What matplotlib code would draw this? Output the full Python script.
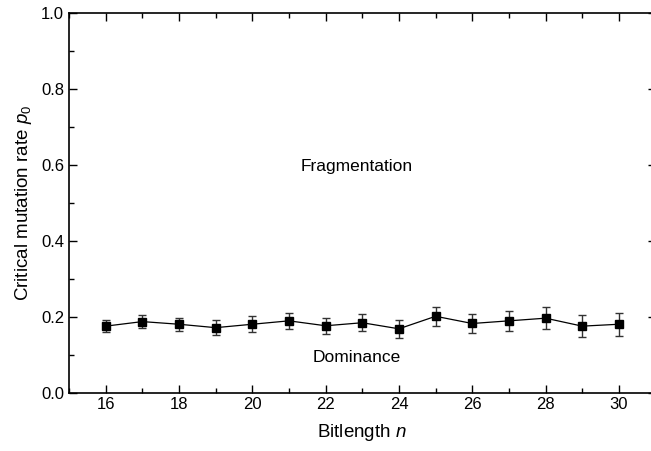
import numpy as np
import matplotlib
matplotlib.use("Agg")
import matplotlib.pyplot as plt
from matplotlib.ticker import MultipleLocator

plt.rcParams["font.family"] = ["Liberation Sans", "DejaVu Sans"]
plt.rcParams["mathtext.fontset"] = "custom"
plt.rcParams["mathtext.it"] = "Liberation Sans:italic"
plt.rcParams["mathtext.rm"] = "Liberation Sans"

# data
bitlength = [16, 17, 18, 19, 20, 21, 22, 23, 24, 25, 26, 27, 28, 29, 30]
p0 = [0.175, 0.187, 0.180, 0.171, 0.180, 0.189, 0.176, 0.184, 0.168, 0.201,
      0.182, 0.189, 0.196, 0.175, 0.180]
p0_err = [0.016, 0.017, 0.0175, 0.019, 0.0205, 0.021, 0.0215, 0.023, 0.024, 0.025,
          0.026, 0.027, 0.0285, 0.0295, 0.030]

fig = plt.figure(figsize=(6.51, 4.51), dpi=100)
ax = fig.add_axes([0.106, 0.1297, 0.901, 0.8408])

ax.errorbar(bitlength, p0, yerr=p0_err, color="black", ecolor="#333333",
            marker="s", markersize=5.8, linewidth=0.9, elinewidth=1.0,
            capsize=2.6, capthick=1.0)

ax.set_xlim(15, 31)
ax.set_ylim(0, 1.0)
ax.xaxis.set_major_locator(MultipleLocator(2))
ax.xaxis.set_minor_locator(MultipleLocator(1))
ax.yaxis.set_major_locator(MultipleLocator(0.2))
ax.yaxis.set_minor_locator(MultipleLocator(0.1))
ax.yaxis.set_major_formatter(plt.FormatStrFormatter("%.1f"))

ax.tick_params(which="both", direction="in", top=True, right=True,
               labelsize=12, width=1.0)
ax.tick_params(which="major", length=6)
ax.tick_params(which="minor", length=3.5)
for s in ax.spines.values():
    s.set_linewidth(1.2)

ax.set_xlabel("Bitlength $n$", fontsize=13.5, labelpad=7)
ax.set_ylabel("Critical mutation rate $p_0$", fontsize=13.5, labelpad=5)

ax.text(22.85, 0.595, "Fragmentation", fontsize=12.5, ha="center", va="center")
ax.text(22.85, 0.091, "Dominance", fontsize=12.5, ha="center", va="center")

fig.savefig("out.png", dpi=100)
